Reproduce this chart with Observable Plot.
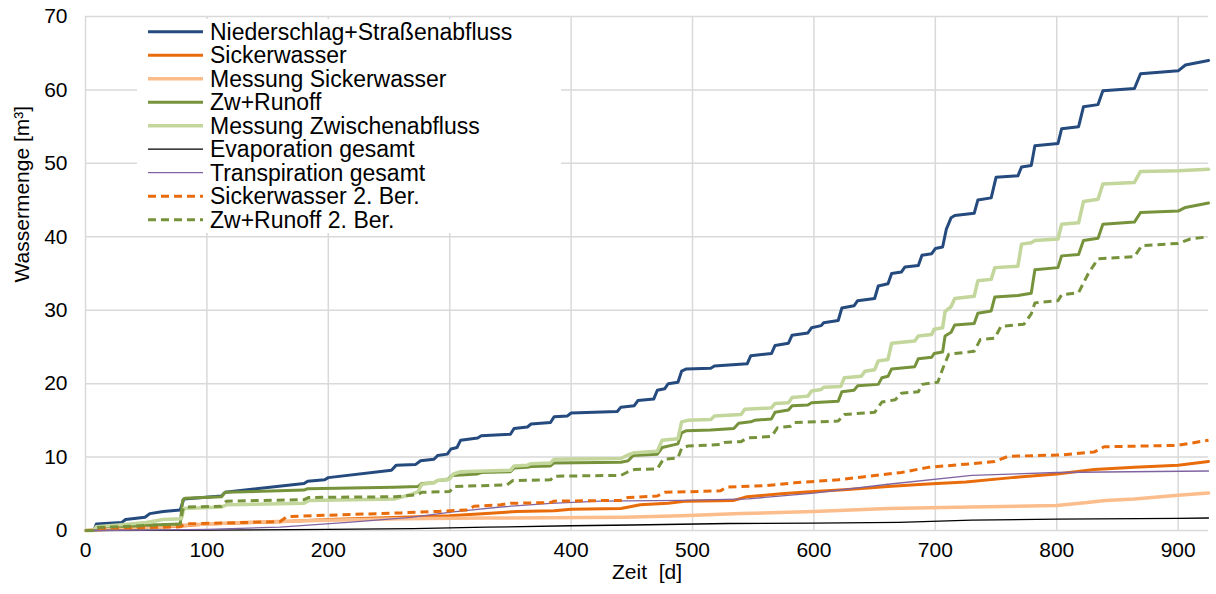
<!DOCTYPE html>
<html>
<head>
<meta charset="utf-8">
<script src="https://cdn.jsdelivr.net/npm/d3@7"></script>
<script src="https://cdn.jsdelivr.net/npm/@observablehq/plot@0.6"></script>
<style>
  body { margin: 0; background: #fff; font-family: Arial, "Liberation Sans", sans-serif; }
  #chart svg { display: block; }
</style>
</head>
<body>
<div id="chart"></div>
<script>
// Cumulative water volumes [m³] over time [d]; each series is a list of [day, value] points.
const seriesNames = [
  "Niederschlag+Straßenabfluss",
  "Sickerwasser",
  "Messung Sickerwasser",
  "Zw+Runoff",
  "Messung Zwischenabfluss",
  "Evaporation gesamt",
  "Transpiration gesamt",
  "Sickerwasser 2. Ber.",
  "Zw+Runoff 2. Ber."
];

const niederschlag = [
  [0,0],[7,0],[9,0.9],[30,1.1],[33,1.5],[49,1.8],[53,2.3],[64,2.6],[78,2.8],[81,4.3],[112,4.7],[115,5.2],
  [180,6.4],[183,6.7],[197,6.9],[200,7.2],[252,8.2],[256,8.9],[272,9.0],[276,9.5],[287,9.7],[290,10.2],
  [298,10.4],[301,11.1],[306,11.3],[309,12.3],[323,12.6],[326,12.9],[350,13.1],[353,13.9],[364,14.1],
  [367,14.5],[383,14.7],[386,15.5],[397,15.6],[400,16.0],[438,16.2],[441,16.8],[452,17.0],[455,17.7],
  [468,17.9],[471,19.1],[477,19.3],[480,20.0],[488,20.2],[491,21.7],[495,22.0],[515,22.1],[518,22.4],
  [545,22.7],[548,23.8],[565,24.1],[568,25.2],[579,25.5],[582,26.6],[595,26.9],[598,27.6],[606,27.9],
  [608,28.3],[620,28.6],[623,30.3],[633,30.6],[636,31.3],[650,31.6],[653,33.3],[661,33.6],[664,35.0],
  [672,35.2],[675,35.9],[686,36.1],[689,37.5],[697,37.7],[700,38.4],[706,38.6],[709,41.0],[713,42.6],
  [716,42.9],[732,43.2],[735,45.0],[746,45.3],[750,48.1],[768,48.3],[771,49.5],[779,49.7],[782,52.4],
  [801,52.7],[804,54.7],[818,55.0],[822,57.7],[834,58.0],[838,59.9],[864,60.2],[869,62.2],[900,62.6],
  [906,63.4],[925,64.0]
];

const sickerwasser = [
  [0,0],[10,0.1],[40,0.3],[80,0.6],[100,0.9],[160,1.2],[200,1.5],[260,1.8],[300,2.0],[330,2.3],
  [355,2.6],[386,2.7],[400,2.9],[441,3.0],[457,3.5],[480,3.7],[495,4.0],[534,4.1],[545,4.6],[573,5.0],
  [600,5.3],[628,5.6],[661,6.0],[690,6.3],[725,6.6],[763,7.2],[800,7.7],[831,8.3],[864,8.6],[900,8.9],
  [925,9.4]
];

const messungSickerwasser = [
  [0,0],[10,0.1],[50,0.4],[80,0.7],[100,0.9],[150,1.2],[200,1.4],[260,1.6],[330,1.7],[444,1.8],
  [491,2.0],[540,2.3],[600,2.6],[661,3.0],[730,3.2],[800,3.4],[825,3.8],[840,4.1],[864,4.3],[900,4.8],
  [925,5.1]
];

const zwRunoff = [
  [0,0],[7,0],[9,0.5],[40,0.6],[60,0.8],[78,0.9],[80,4.1],[82,4.4],[112,4.6],[115,5.2],[180,5.5],
  [183,5.7],[254,5.9],[274,6.0],[277,6.4],[287,6.5],[290,6.8],[298,6.9],[302,7.5],[323,7.7],[326,7.9],
  [350,8.0],[353,8.5],[364,8.6],[367,8.7],[383,8.8],[386,9.2],[441,9.3],[447,9.5],[451,10.2],[471,10.4],
  [475,11.3],[488,11.8],[491,13.3],[495,13.6],[515,13.7],[534,13.9],[538,14.6],[548,14.8],[551,15.0],
  [565,15.2],[568,16.1],[579,16.4],[582,17.0],[595,17.1],[598,17.4],[620,17.6],[623,18.9],[633,19.1],
  [636,19.7],[653,19.9],[656,20.8],[661,21.0],[664,22.0],[683,22.3],[686,23.4],[697,23.6],[699,24.1],
  [706,24.3],[708,26.5],[713,27.0],[716,28.0],[732,28.2],[735,29.6],[746,29.9],[749,31.8],[768,32.0],
  [779,32.3],[782,35.5],[801,35.8],[804,37.4],[818,37.6],[822,39.5],[834,39.8],[838,41.7],[864,42.0],
  [869,43.3],[900,43.5],[906,44.0],[925,44.6]
];

const messungZwischenabfluss = [
  [0,0],[7,0],[9,0.5],[30,0.8],[50,1.1],[64,1.5],[79,1.6],[81,3.0],[112,3.2],[116,3.5],[180,3.7],
  [184,4.1],[255,4.3],[268,4.9],[274,5.3],[277,6.3],[287,6.5],[290,6.8],[300,7.0],[303,7.7],[309,8.0],
  [350,8.2],[353,8.8],[364,8.9],[367,9.1],[383,9.2],[386,9.7],[441,9.8],[447,10.3],[452,10.6],[471,10.8],
  [475,12.3],[488,12.5],[491,14.8],[496,15.0],[515,15.1],[518,15.6],[540,15.8],[543,16.5],[565,16.7],
  [568,17.3],[579,17.4],[582,18.1],[595,18.3],[598,19.0],[606,19.2],[608,19.5],[622,19.6],[625,20.8],
  [639,21.0],[642,21.7],[650,21.9],[653,23.1],[661,23.3],[664,25.5],[683,25.8],[686,26.5],[697,26.7],
  [699,27.4],[706,27.6],[708,29.8],[713,30.5],[716,31.6],[732,31.9],[735,34.0],[746,34.2],[749,35.8],
  [768,36.0],[771,39.0],[779,39.2],[782,39.5],[801,39.7],[804,41.7],[818,41.9],[822,44.8],[834,45.1],
  [838,47.2],[864,47.4],[869,48.9],[900,49.0],[925,49.2]
];

const evaporation = [
  [0,0],[100,0.05],[200,0.15],[270,0.25],[330,0.45],[400,0.65],[450,0.75],[530,0.95],[600,1.0],
  [670,1.1],[730,1.4],[800,1.55],[900,1.65],[925,1.7]
];

const transpiration = [
  [0,0],[50,0.05],[100,0.15],[160,0.45],[216,1.1],[268,1.8],[301,2.5],[342,3.2],[383,3.7],[424,4.0],
  [491,4.1],[546,4.3],[600,5.1],[661,6.3],[730,7.5],[800,7.9],[860,8.0],[925,8.1]
];

const sickerwasser2 = [
  [0,0],[8,0],[12,0.3],[78,0.5],[82,0.9],[160,1.2],[166,1.9],[260,2.4],[290,2.6],[315,2.8],[320,3.3],
  [342,3.5],[350,3.7],[383,3.8],[386,4.0],[441,4.1],[447,4.5],[471,4.7],[477,5.2],[523,5.4],[528,5.9],
  [560,6.1],[584,6.5],[620,6.9],[640,7.3],[672,7.9],[694,8.6],[730,9.1],[749,9.4],[760,10.1],[804,10.3],
  [831,10.7],[839,11.4],[900,11.6],[925,12.3]
];

const zwRunoff2 = [
  [0,0],[7,0],[9,0.4],[40,0.6],[78,0.9],[80,2.8],[82,3.2],[112,3.3],[116,4.0],[180,4.2],[184,4.5],
  [255,4.6],[274,4.9],[277,5.2],[300,5.3],[304,6.0],[347,6.2],[352,6.8],[383,6.9],[386,7.4],[441,7.5],
  [447,8.0],[452,8.3],[471,8.4],[476,9.7],[488,9.9],[491,11.2],[496,11.5],[523,11.7],[526,12.0],
  [540,12.1],[545,12.6],[565,12.8],[570,14.0],[581,14.2],[584,14.7],[620,14.9],[625,15.8],[650,16.1],
  [656,17.5],[667,17.8],[672,18.7],[686,18.9],[689,19.9],[702,20.2],[706,22.0],[711,24.0],[732,24.4],
  [737,26.0],[749,26.2],[754,27.8],[773,28.1],[779,29.5],[782,31.0],[801,31.3],[804,32.1],[818,32.4],
  [826,35.0],[834,37.0],[864,37.3],[870,38.8],[900,39.1],[910,39.7],[925,40.0]
];

const xTicks = [0, 100, 200, 300, 400, 500, 600, 700, 800, 900];
const yTicks = [0, 10, 20, 30, 40, 50, 60, 70];

// Drawing style for each series, in legend order.
const seriesData = [niederschlag, sickerwasser, messungSickerwasser, zwRunoff, messungZwischenabfluss,
                    evaporation, transpiration, sickerwasser2, zwRunoff2];
const seriesStyle = [
  {stroke: "#244a7e", width: 3},
  {stroke: "#e96c0c", width: 3},
  {stroke: "#fbbd8c", width: 3.5},
  {stroke: "#76933c", width: 3},
  {stroke: "#c3d69b", width: 3.5},
  {stroke: "#000000", width: 1.3},
  {stroke: "#8064a2", width: 1.3},
  {stroke: "#e96c0c", width: 3, dash: "8,5"},
  {stroke: "#76933c", width: 3, dash: "8,5"}
];

const lineMarks = seriesData.map((data, i) => {
  const s = seriesStyle[i];
  return Plot.line(data, {
    x: d => d[0],
    y: d => d[1],
    stroke: s.stroke,
    strokeWidth: s.width,
    strokeDasharray: s.dash,
    strokeLinecap: s.dash ? "butt" : "round",
    strokeLinejoin: "round"
  });
});

const chart = Plot.plot({
  width: 1216,
  height: 594,
  marginLeft: 85,
  marginRight: 8,
  marginTop: 16,
  marginBottom: 64,
  style: {fontFamily: 'Arial, "Liberation Sans", sans-serif', fontSize: "21px", color: "#000", background: "#fff"},
  x: {domain: [0, 925]},
  y: {domain: [0, 70]},
  marks: [
    Plot.gridX(xTicks, {stroke: "#d9d9d9", strokeOpacity: 1, strokeWidth: 1.5}),
    Plot.gridY(yTicks, {stroke: "#d9d9d9", strokeOpacity: 1, strokeWidth: 1.5}),
    Plot.axisX(xTicks, {tickSize: 0, tickPadding: 12, label: null, fontSize: 21}),
    Plot.axisY(yTicks, {tickSize: 0, tickPadding: 18, label: null, fontSize: 21}),
    Plot.text(["Zeit  [d]"], {frameAnchor: "bottom", dy: 48, fontSize: 21, fill: "#000"}),
    Plot.text(["Wassermenge [m³]"], {frameAnchor: "left", dx: -63, dy: 9, rotate: -90, fontSize: 21, fill: "#000"}),
    ...lineMarks
  ]
});

document.getElementById("chart").appendChild(chart);

// Legend box in the upper left of the plotting area.
const svg = d3.select(chart);
const legend = svg.append("g")
  .attr("font-family", 'Arial, "Liberation Sans", sans-serif')
  .attr("text-anchor", "start");
legend.append("rect").attr("x", 137).attr("y", 19).attr("width", 424).attr("height", 214).attr("fill", "#fff");
const rows = legend.selectAll("g.row").data(seriesNames).join("g")
  .attr("transform", (d, i) => `translate(0,${31.7 + 23.5 * i})`);
rows.append("line")
  .attr("x1", 148).attr("x2", 203).attr("y1", 0).attr("y2", 0)
  .attr("stroke", (d, i) => seriesStyle[i].stroke)
  .attr("stroke-width", (d, i) => seriesStyle[i].width)
  .attr("stroke-dasharray", (d, i) => seriesStyle[i].dash || null);
rows.append("text")
  .attr("x", 210).attr("y", 0).attr("dy", "0.36em")
  .attr("text-anchor", "start")
  .attr("font-size", 23).attr("fill", "#000")
  .text(d => d);
</script>
</body>
</html>
